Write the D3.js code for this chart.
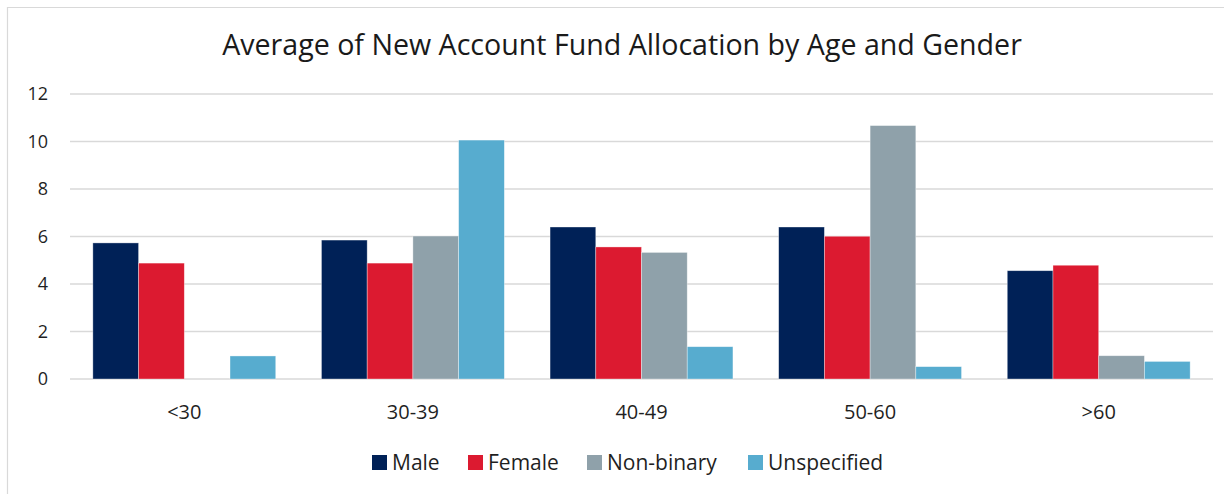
<!DOCTYPE html>
<html>
<head>
<meta charset="utf-8">
<script src="https://cdn.jsdelivr.net/npm/d3@7"></script>
<style>
  body { margin: 0; background: #fff; }
  svg { font-family: "Open Sans", "Noto Sans", sans-serif; }
</style>
</head>
<body>
<div id="chart"></div>
<script>
// data
var ageGroups = ["<30", "30-39", "40-49", "50-60", ">60"];
var genders = ["Male", "Female", "Non-binary", "Unspecified"];
var male = [5.73, 5.85, 6.4, 6.4, 4.56];
var female = [4.88, 4.88, 5.56, 6.01, 4.79];
var nonBinary = [null, 6.02, 5.33, 10.67, 0.98];
var unspecified = [0.97, 10.06, 1.36, 0.52, 0.74];
var yTicks = [0, 2, 4, 6, 8, 10, 12];
var colors = ["#002157", "#DC1A30", "#8FA1AA", "#57ACCF"];

var seriesValues = [male, female, nonBinary, unspecified];

var W = 1224, H = 494;
var margin = {top: 94, right: 11, bottom: 115, left: 70},
    width = W - margin.left - margin.right,
    height = H - margin.top - margin.bottom;

var svg = d3.select("#chart").append("svg")
    .attr("width", W)
    .attr("height", H);

// chart frame (only top and left edges are visible)
svg.append("path")
    .attr("d", "M7.5," + H + "V7.5H" + W)
    .attr("fill", "none")
    .attr("stroke", "#d9d9d9")
    .attr("stroke-width", 1.2);

svg.append("text")
    .attr("x", 622)
    .attr("y", 55)
    .attr("text-anchor", "middle")
    .style("font-size", "28.6px")
    .style("fill", "#1a1a1a")
    .text("Average of New Account Fund Allocation by Age and Gender");

var g = svg.append("g")
    .attr("transform", "translate(" + margin.left + "," + margin.top + ")");

var x0 = d3.scaleBand()
    .domain(ageGroups)
    .range([0, width])
    .paddingInner(0.2)
    .paddingOuter(0.1);

var x1 = d3.scaleBand()
    .domain(genders)
    .range([0, x0.bandwidth()]);

var y = d3.scaleLinear()
    .domain([0, 12])
    .range([height, 0]);

// gridlines
g.selectAll(".grid")
    .data(yTicks)
    .enter().append("line")
    .attr("class", "grid")
    .attr("x1", 0)
    .attr("x2", width)
    .attr("y1", function (d) { return y(d); })
    .attr("y2", function (d) { return y(d); })
    .attr("stroke", "#d9d9d9")
    .attr("stroke-width", 1.5);

// y axis labels
g.selectAll(".ylab")
    .data(yTicks)
    .enter().append("text")
    .attr("class", "ylab")
    .attr("x", -22)
    .attr("y", function (d) { return y(d); })
    .attr("dy", "0.35em")
    .attr("text-anchor", "end")
    .style("font-size", "18px")
    .style("fill", "#1f1f1f")
    .text(function (d) { return d; });

// bars
var groups = g.selectAll(".group")
    .data(ageGroups)
    .enter().append("g")
    .attr("class", "group")
    .attr("transform", function (d) { return "translate(" + x0(d) + ",0)"; });

groups.selectAll("rect")
    .data(function (d, i) {
        return genders.map(function (s, j) {
            return {gender: s, value: seriesValues[j][i], color: colors[j]};
        }).filter(function (b) { return b.value != null; });
    })
    .enter().append("rect")
    .attr("x", function (d) { return x1(d.gender); })
    .attr("width", x1.bandwidth())
    .attr("y", function (d) { return y(d.value); })
    .attr("height", function (d) { return height - y(d.value); })
    .attr("fill", function (d) { return d.color; })
    .attr("stroke", "#fff")
    .attr("stroke-opacity", 0.5)
    .attr("stroke-width", 0.7);

// x axis labels
g.selectAll(".xlab")
    .data(ageGroups)
    .enter().append("text")
    .attr("class", "xlab")
    .attr("x", function (d) { return x0(d) + x0.bandwidth() / 2; })
    .attr("y", 419 - margin.top)
    .attr("text-anchor", "middle")
    .style("font-size", "20px")
    .style("fill", "#1f1f1f")
    .text(function (d) { return d; });

// legend
var legendX = [372, 468, 587, 748];
var legend = svg.selectAll(".legend")
    .data(genders)
    .enter().append("g")
    .attr("class", "legend")
    .attr("transform", function (d, i) { return "translate(" + legendX[i] + ",455)"; });

legend.append("rect")
    .attr("width", 15)
    .attr("height", 15)
    .attr("fill", function (d, i) { return colors[i]; });

legend.append("text")
    .attr("x", 20)
    .attr("y", 15)
    .style("font-size", "21px")
    .style("fill", "#1f1f1f")
    .text(function (d) { return d; });
</script>
</body>
</html>
